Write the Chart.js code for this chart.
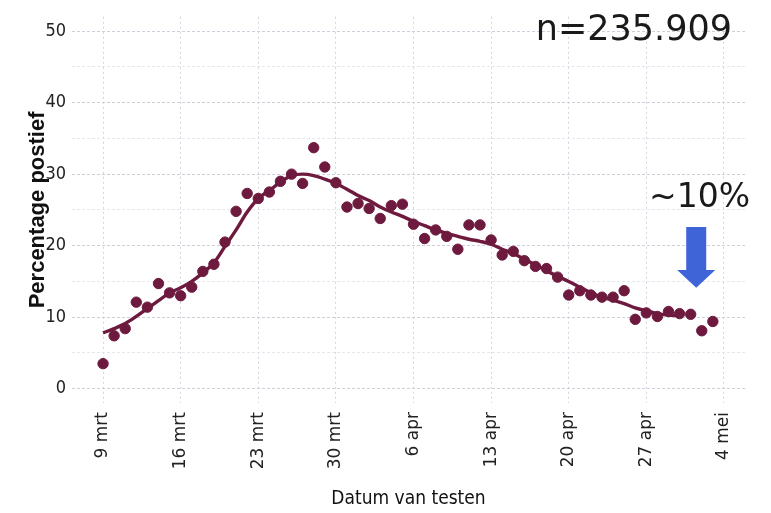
<!DOCTYPE html>
<html>
<head>
<meta charset="utf-8">
<script src="https://cdn.jsdelivr.net/npm/chart.js@4/dist/chart.umd.min.js"></script>
<style>
  html, body { margin: 0; padding: 0; background: #fff; }
  #wrap { width: 771px; height: 513px; }
</style>
</head>
<body>
<div id="wrap"><canvas id="myChart" width="771" height="513"></canvas></div>
<script>
// tick labels, one per week, day 0 = 9 mrt
var weekLabels = ["9 mrt", "16 mrt", "23 mrt", "30 mrt", "6 apr", "13 apr", "20 apr", "27 apr", "4 mei"]

// percentage positief per day, starting 9 mrt
var positief = [3.5, 7.4, 8.4, 12.1, 11.4, 14.7, 13.4, 13.0, 14.2, 16.4,
	17.4, 20.5, 24.8, 27.3, 26.6, 27.5, 29.0, 30.0, 28.7, 33.7,
	31.0, 28.8, 25.4, 25.9, 25.2, 23.8, 25.6, 25.8, 23.0, 21.0,
	22.2, 21.3, 19.5, 22.9, 22.9, 20.8, 18.7, 19.2, 17.9, 17.1,
	16.8, 15.6, 13.1, 13.7, 13.1, 12.8, 12.8, 13.7, 9.7, 10.6,
	10.1, 10.8, 10.5, 10.4, 8.1, 9.4]

// smoothed trend per day, starting 9 mrt
var trend = [7.8, 8.4, 9.1, 10.1, 11.2, 12.3, 13.4, 14.1, 15.0, 16.2,
	17.6, 19.9, 22.2, 24.7, 26.6, 27.7, 28.9, 29.8, 30.0, 29.8,
	29.3, 28.7, 27.9, 27.0, 26.3, 25.4, 24.7, 24.1, 23.4, 22.8,
	22.2, 21.7, 21.3, 20.9, 20.6, 20.2, 19.5, 18.9, 18.1, 17.3,
	16.5, 15.7, 15.0, 14.2, 13.4, 12.8, 12.4, 11.9, 11.3, 10.9,
	10.5, 10.3, 10.2]

var sampleSize = "n=235.909"
var arrowNote = "~10%"

var maroon = "#6e1a3e"
var arrowBlue = "#3e64d8"
var narrowFont = "'DejaVu Sans Condensed', 'Liberation Sans Narrow', 'Liberation Sans', Arial"

var toPoints = function(values) {
	return values.map(function(v, i){ return {x: i, y: v} })
}

// draws the n= text, the ~10% note and the blue arrow
var notesPlugin = {
	id: "notes",
	afterDraw: function(chart) {
		var ctx = chart.ctx
		var xs = chart.scales.x
		var ys = chart.scales.y
		ctx.save()
		ctx.fillStyle = "#1a1a1a"
		ctx.textBaseline = "alphabetic"
		ctx.textAlign = "right"
		ctx.font = "35px 'DejaVu Sans'"
		ctx.fillText(sampleSize, 732, 40)
		ctx.font = "33px 'DejaVu Sans'"
		ctx.fillText(arrowNote, 750, 207)

		// arrow placed over day 53.5, from 22.6% down to 14.1%
		var cx = xs.getPixelForValue(53.5)
		var top = ys.getPixelForValue(22.6)
		var neck = ys.getPixelForValue(16.6)
		var tip = ys.getPixelForValue(14.1)
		ctx.fillStyle = arrowBlue
		ctx.beginPath()
		ctx.moveTo(cx - 10, top)
		ctx.lineTo(cx + 10, top)
		ctx.lineTo(cx + 10, neck)
		ctx.lineTo(cx + 19, neck)
		ctx.lineTo(cx, tip)
		ctx.lineTo(cx - 19, neck)
		ctx.lineTo(cx - 10, neck)
		ctx.closePath()
		ctx.fill()
		ctx.restore()
	}
}

var canvasCtx = document.getElementById("myChart").getContext("2d")
var config = {
	type: "scatter",
	data: {
		datasets: [
			{
				label: "trend",
				data: toPoints(trend),
				showLine: true,
				borderColor: maroon,
				borderWidth: 3.4,
				pointRadius: 0,
				cubicInterpolationMode: "monotone",
				order: 2
			},
			{
				label: "positief",
				data: toPoints(positief),
				showLine: false,
				backgroundColor: maroon,
				borderColor: maroon,
				pointRadius: 5.2,
				order: 1
			}
		]
	},
	options: {
		responsive: false,
		maintainAspectRatio: false,
		animation: false,
		layout: { padding: { top: 10, right: 26, left: 0, bottom: 0 } },
		plugins: {
			legend: { display: false },
			tooltip: { enabled: false }
		},
		scales: {
			x: {
				type: "linear",
				min: -2.8,
				max: 57.9,
				border: { display: false, dash: [2, 3] },
				grid: {
					color: "#d4d4e0",
					drawTicks: false
				},
				afterBuildTicks: function(axis) {
					axis.ticks = weekLabels.map(function(l, i){ return {value: i * 7} })
				},
				afterFit: function(axis) { axis.height = 110 },
				ticks: {
					autoSkip: false,
					minRotation: 90,
					maxRotation: 90,
					padding: 9,
					color: "#222",
					font: { family: "'DejaVu Sans'", size: 17 },
					callback: function(value) { return weekLabels[Math.round(value / 7)] }
				},
				title: {
					display: true,
					text: "Datum van testen",
					color: "#111",
					padding: { top: 0, bottom: 3 },
					font: { family: narrowFont, size: 19 }
				}
			},
			y: {
				min: -2,
				max: 52,
				border: { display: false, dash: [3, 2] },
				grid: {
					drawTicks: false,
					color: function(c) {
						return c.tick && c.tick.value % 10 === 0 ? "#cfcfdc" : "#e6e6ee"
					}
				},
				afterBuildTicks: function(axis) {
					var t = []
					for (var v = 0; v <= 50; v += 5) t.push({value: v})
					axis.ticks = t
				},
				afterFit: function(axis) { axis.width = 72 },
				ticks: {
					padding: 6,
					color: "#222",
					font: { family: narrowFont, size: 18 },
					callback: function(value) { return value % 10 === 0 ? value : "" }
				},
				title: {
					display: true,
					text: "Percentage postief",
					color: "#111",
					padding: { top: 25, bottom: 0 },
					font: { family: "'Liberation Sans'", size: 22, weight: "bold" }
				}
			}
		}
	},
	plugins: [notesPlugin]
}
var myChart = new Chart(canvasCtx, config)
</script>
</body>
</html>
